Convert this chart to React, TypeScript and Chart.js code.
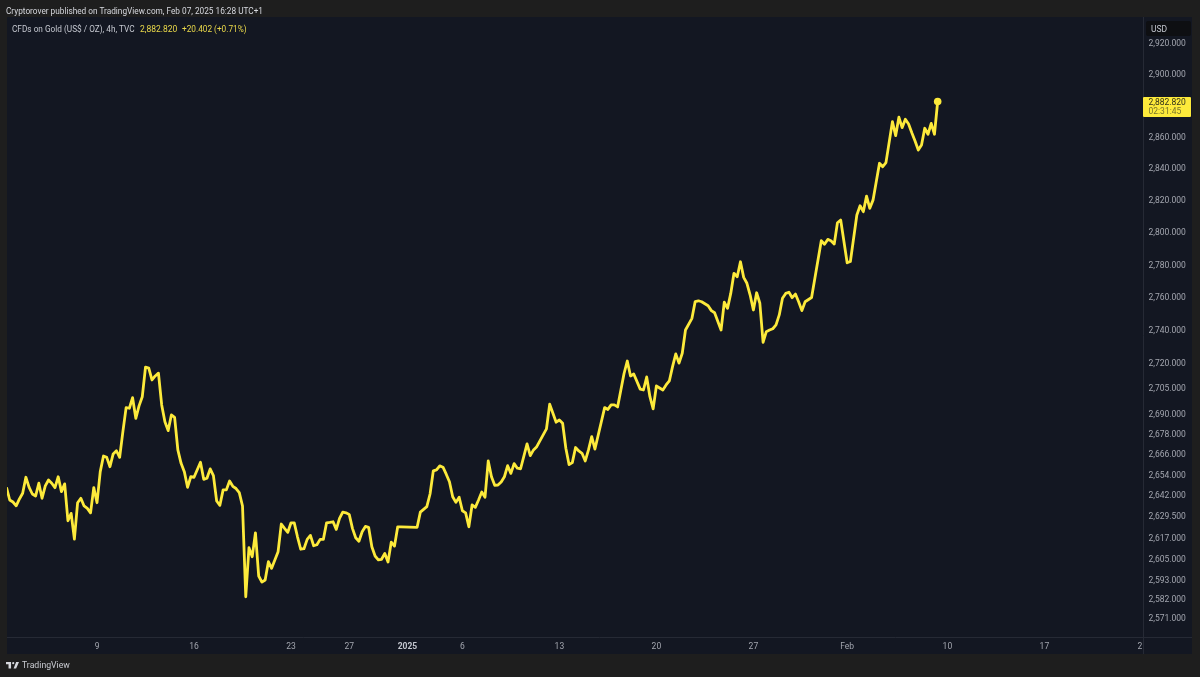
import React, { useEffect, useRef } from 'react';
import { Chart, registerables } from 'chart.js';

Chart.register(...registerables);

const FRAME = '#1e1e1e';
const PANEL = '#131722';
const AXIS_LINE = '#262a35';
const LINE = '#fdea3b';
const TICK_TEXT = '#a3a6af';
const FONT = 'Roboto, "Noto Sans", sans-serif';

// 4h bars counted from the left edge of the chart
const bars = [
  0, 1, 2, 3, 4, 5, 6, 7, 8, 9, 10, 11, 12, 13, 14, 15, 16, 17, 18, 19, 20, 21, 22, 23, 24, 25, 26, 27, 28, 29,
  30, 31, 32, 33, 34, 35, 36, 37, 38, 39, 40, 41, 42, 43, 44, 45, 46, 47, 48, 49, 50, 51, 52, 53, 54, 55, 56, 57, 58, 60,
  61, 62, 63, 64, 65, 66, 67, 68, 69, 70, 71, 72, 73, 74, 75, 76, 77, 78, 79, 80, 81, 82, 83, 84, 85, 86, 87, 88, 89, 90,
  91, 92, 93, 94, 95, 96, 97, 98, 99, 100, 101, 102, 103, 104, 105, 106, 107, 108, 109, 110, 111, 112, 113, 114, 115, 116, 117, 118, 119, 120,
  121, 122, 127, 128, 130, 131, 132, 133, 134, 135, 136, 137, 138, 139, 140, 141, 142, 143, 144, 145, 146, 147, 148, 149, 150, 151, 152, 153, 154, 155,
  156, 157, 158, 159, 161, 162, 163, 164, 167, 168, 169, 170, 171, 172, 173, 174, 175, 176, 177, 178, 179, 180, 181, 182, 185, 186, 187, 188, 189, 191,
  192, 193, 194, 196, 197, 198, 199, 200, 201, 202, 203, 204, 205, 206, 207, 208, 209, 210, 212, 213, 214, 215, 217, 218, 219, 221, 222, 223, 224, 225,
  226, 227, 228, 229, 230, 231, 232, 233, 234, 235, 236, 237, 238, 239, 240, 241, 242, 243, 244, 245, 246, 247, 249, 252, 253, 254, 255, 256, 257, 258,
  260, 261, 263, 264, 265, 266, 267, 268, 270, 271, 272, 274, 275, 276, 277, 278, 279, 280, 281, 282, 283, 284, 285, 286, 287, 288,
];

const closes = [
  2647.0, 2639.6, 2638.4, 2636.2, 2640.2, 2643.5, 2652.9, 2647.0, 2643.1, 2641.9, 2649.4, 2640.6, 2647.8, 2651.3, 2649.4, 2646.8, 2653.2, 2644.5, 2649.0, 2627.5, 2631.8, 2616.9, 2638.0, 2640.6, 2636.1, 2634.7, 2632.1, 2646.8, 2638.0, 2656.2,
  2665.4, 2664.6, 2659.1, 2666.6, 2668.5, 2664.6, 2679.8, 2694.1, 2693.7, 2700.0, 2687.7, 2695.1, 2700.6, 2718.3, 2717.7, 2710.6, 2713.0, 2714.7, 2695.7, 2685.7, 2680.4, 2689.7, 2688.3, 2669.0, 2661.1, 2656.2, 2647.0, 2653.2, 2652.9, 2661.7,
  2651.7, 2652.3, 2657.8, 2653.9, 2639.0, 2636.5, 2645.5, 2645.5, 2650.7, 2647.6, 2646.3, 2643.9, 2636.1, 2583.7, 2611.9, 2606.7, 2620.5, 2595.6, 2592.1, 2593.3, 2603.8, 2600.0, 2604.8, 2609.6, 2625.6, 2623.1, 2620.8, 2626.3, 2626.3, 2618.2,
  2611.0, 2611.3, 2616.7, 2619.0, 2613.0, 2613.6, 2616.7, 2616.7, 2626.3, 2626.5, 2626.9, 2622.5, 2628.9, 2632.5, 2632.1, 2631.2, 2623.1, 2617.6, 2615.6, 2621.1, 2624.2, 2623.7, 2612.4, 2607.1, 2604.9, 2605.2, 2608.6, 2603.6, 2615.1, 2612.8,
  2624.0, 2624.0, 2623.7, 2632.5, 2635.7, 2643.1, 2656.6, 2657.2, 2659.6, 2658.8, 2654.7, 2650.3, 2641.5, 2638.2, 2641.2, 2633.3, 2632.1, 2624.0, 2636.7, 2635.3, 2639.6, 2644.3, 2641.2, 2662.5, 2653.2, 2648.2, 2648.3, 2650.1, 2653.2, 2659.7,
  2655.2, 2660.9, 2658.2, 2657.9, 2672.5, 2665.6, 2669.0, 2670.9, 2681.4, 2696.1, 2690.7, 2685.4, 2686.7, 2684.8, 2670.0, 2660.3, 2661.5, 2670.4, 2668.4, 2667.0, 2662.5, 2669.0, 2676.8, 2669.5, 2694.1, 2693.0, 2695.7, 2695.7, 2694.5, 2714.5,
  2722.0, 2713.0, 2714.2, 2705.1, 2704.6, 2712.4, 2700.6, 2693.3, 2707.0, 2705.8, 2704.6, 2707.6, 2710.0, 2718.6, 2726.3, 2720.7, 2726.7, 2740.7, 2747.8, 2758.0, 2758.5, 2757.9, 2755.5, 2752.5, 2751.2, 2740.7, 2757.6, 2753.9, 2763.0, 2775.3,
  2773.2, 2782.4, 2772.8, 2769.2, 2762.0, 2752.9, 2763.4, 2757.0, 2733.3, 2739.7, 2740.7, 2741.5, 2743.8, 2749.9, 2760.0, 2763.0, 2763.7, 2760.4, 2762.6, 2757.9, 2752.5, 2757.9, 2760.5, 2795.4, 2793.2, 2796.2, 2795.4, 2793.3, 2806.5, 2808.2,
  2781.8, 2782.6, 2811.3, 2817.1, 2813.4, 2823.1, 2815.5, 2820.6, 2843.7, 2841.5, 2844.1, 2870.0, 2861.1, 2872.8, 2866.2, 2871.5, 2868.5, 2862.9, 2857.7, 2852.0, 2855.2, 2865.8, 2862.0, 2868.9, 2862.0, 2882.82,
];

const priceTicks = [
  2920, 2900, 2880, 2860, 2840, 2820, 2800, 2780, 2760, 2740, 2720, 2705, 2690, 2678, 2666, 2654, 2642, 2629.5, 2617,
  2605, 2593, 2582, 2571,
];
const priceMin = 2560.8;
const priceMax = 2937.2;

const dateTickBars = [28, 58, 88, 106, 124, 141, 171, 201, 231, 260, 291, 321, 350.5];
const dateTickLabels = ['9', '16', '23', '27', '2025', '6', '13', '20', '27', 'Feb', '10', '17', '2'];
const barMin = 0.16;
const barMax = 351.5;

const formatPrice = (v: number) =>
  v.toLocaleString('en-US', { minimumFractionDigits: 3, maximumFractionDigits: 3 });

// Frame and panel behind the plot, with the two axis separator lines
const backdrop = {
  id: 'backdrop',
  beforeDraw(chart: Chart) {
    const { ctx, chartArea } = chart;
    const panelRight = chartArea.right + 49;
    const panelBottom = chartArea.bottom + 17;
    ctx.save();
    ctx.fillStyle = FRAME;
    ctx.fillRect(0, 0, chart.width, chart.height);
    ctx.fillStyle = PANEL;
    ctx.fillRect(chartArea.left, chartArea.top, panelRight - chartArea.left, panelBottom - chartArea.top);
    ctx.strokeStyle = AXIS_LINE;
    ctx.lineWidth = 1;
    ctx.beginPath();
    ctx.moveTo(chartArea.right + 0.5, chartArea.top);
    ctx.lineTo(chartArea.right + 0.5, panelBottom);
    ctx.moveTo(chartArea.left, chartArea.bottom + 0.5);
    ctx.lineTo(panelRight, chartArea.bottom + 0.5);
    ctx.stroke();
    ctx.restore();
  },
};

const textStyle = (left: number, top: number, size: number, color: string): React.CSSProperties => ({
  position: 'absolute',
  left,
  top,
  fontSize: size,
  lineHeight: '12px',
  color,
  fontFamily: FONT,
  whiteSpace: 'nowrap',
});

export default function App() {
  const canvasRef = useRef<HTMLCanvasElement>(null);

  useEffect(() => {
    document.body.style.margin = '0';
    document.body.style.background = FRAME;
    if (!canvasRef.current) return;

    const chart = new Chart(canvasRef.current, {
      type: 'line',
      data: {
        datasets: [
          {
            data: bars.map((b, i) => ({ x: b, y: closes[i] })),
            borderColor: LINE,
            backgroundColor: LINE,
            borderWidth: 2.8,
            borderJoinStyle: 'round',
            tension: 0,
            pointRadius: (ctx: any) => (ctx.dataIndex === bars.length - 1 ? 3.8 : 0),
            pointBorderWidth: 0,
          },
        ],
      },
      options: {
        responsive: false,
        animation: false,
        layout: { padding: { left: 7, top: 17, right: 8, bottom: 23 } },
        plugins: { legend: { display: false }, tooltip: { enabled: false } },
        scales: {
          x: {
            type: 'linear',
            min: barMin,
            max: barMax,
            grid: { display: false, drawTicks: false },
            border: { display: false },
            afterFit: (scale: any) => {
              scale.height = 17;
              scale.paddingLeft = 0;
              scale.paddingRight = 0;
            },
            afterBuildTicks: (scale: any) => {
              scale.ticks = dateTickBars.map((value) => ({ value }));
            },
            ticks: {
              autoSkip: false,
              maxRotation: 0,
              padding: 5,
              callback: (value: any) => dateTickLabels[dateTickBars.indexOf(Number(value))],
              color: (ctx: any) => (ctx.tick?.label === '2025' ? '#c4c7cf' : TICK_TEXT),
              font: (ctx: any) => ({
                family: FONT,
                size: 8.5,
                weight: ctx.tick?.label === '2025' ? 'bold' : 'normal',
              }),
            },
          },
          y: {
            type: 'logarithmic',
            position: 'right',
            bounds: 'data',
            min: priceMin,
            max: priceMax,
            grid: { display: false, drawTicks: false },
            border: { display: false },
            afterFit: (scale: any) => {
              scale.width = 49;
              scale.paddingTop = 0;
              scale.paddingBottom = 0;
            },
            afterBuildTicks: (scale: any) => {
              scale.ticks = priceTicks.map((value) => ({ value }));
            },
            ticks: {
              autoSkip: false,
              padding: 5.5,
              color: TICK_TEXT,
              font: { family: FONT, size: 8.5 },
              callback: (value: any) => formatPrice(Number(value)),
            },
          },
        },
      },
      plugins: [backdrop],
    } as any);

    return () => chart.destroy();
  }, []);

  return (
    <div style={{ position: 'relative', width: 1200, height: 677, overflow: 'hidden' }}>
      <canvas ref={canvasRef} width={1200} height={677} style={{ display: 'block' }} />
      <div style={textStyle(6, 4.5, 8.25, '#d6d8de')}>Cryptorover published on TradingView.com, Feb 07, 2025 16:28 UTC+1</div>
      <div style={textStyle(12, 22.5, 8.25, '#c4c7cf')}>CFDs on Gold (US$ / OZ), 4h, TVC</div>
      <div style={textStyle(140, 22.5, 8.5, '#e9d84a')}>2,882.820</div>
      <div style={textStyle(182, 22.5, 8.25, '#e9d84a')}>+20.402 (+0.71%)</div>
      <div
        style={{ position: 'absolute', left: 1146, top: 21, width: 45, height: 15, background: '#0e0f12', borderRadius: 2 }}
      />
      <div style={textStyle(1151, 22.5, 8.5, '#c4c7cf')}>USD</div>
      <div style={{ position: 'absolute', left: 1143, top: 97, width: 47.5, height: 20, background: LINE, borderRadius: 1 }} />
      <div style={textStyle(1148.5, 95.5, 8.5, '#2f2f1a')}>2,882.820</div>
      <div style={textStyle(1148.5, 104.5, 8.5, '#77742a')}>02:31:45</div>
      <svg
        style={{ position: 'absolute', left: 6, top: 661 }}
        width={13}
        height={8}
        viewBox="0 0 36 22"
        fill="#d6d8de"
      >
        <path d="M14 3H0v6h7v12h7V3zM28 21h-7l7-18h8l-8 18z" />
        <circle cx="20" cy="6" r="3" />
      </svg>
      <div style={textStyle(22, 659, 8.7, '#c9cbd1')}>TradingView</div>
    </div>
  );
}
